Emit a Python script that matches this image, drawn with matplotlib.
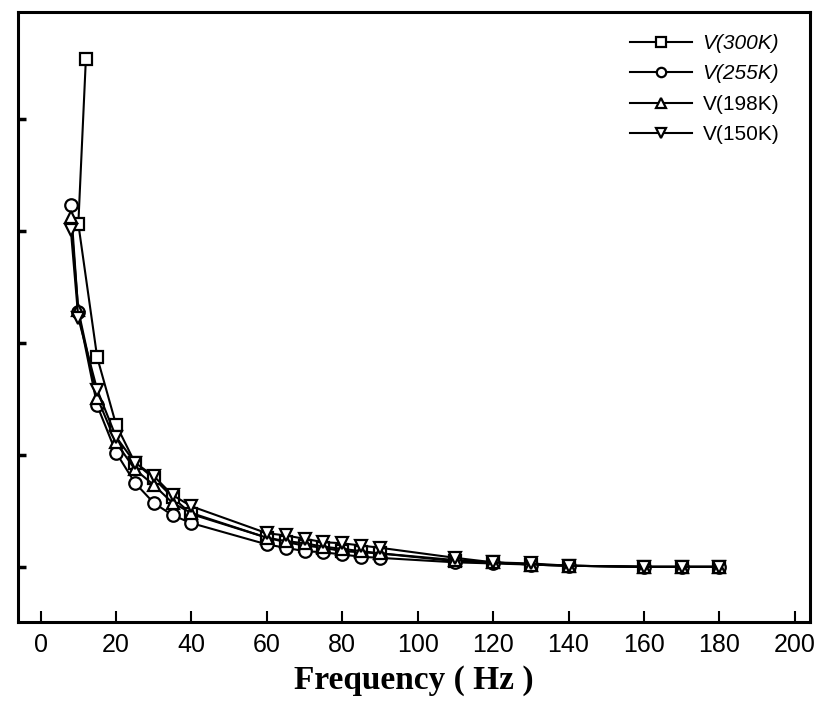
import matplotlib
matplotlib.use('Agg')
import matplotlib.pyplot as plt

freq = [8, 10, 15, 20, 25, 30, 35, 40, 60, 65, 70, 75, 80, 85, 90,
        110, 120, 130, 140, 160, 170, 180]
freq_300 = [12] + freq[1:]

v300 = [4.53, 3.06, 1.87, 1.27, 0.93, 0.79, 0.62, 0.47, 0.26, 0.22, 0.19,
        0.17, 0.14, 0.13, 0.12, 0.05, 0.04, 0.02, 0.01, 0.0, 0.0, 0.0]
v255 = [3.23, 2.27, 1.44, 1.02, 0.75, 0.57, 0.46, 0.39, 0.20, 0.17, 0.14,
        0.13, 0.11, 0.09, 0.08, 0.04, 0.03, 0.02, 0.01, 0.0, 0.0, 0.0]
v198 = [3.12, 2.29, 1.51, 1.11, 0.87, 0.73, 0.57, 0.48, 0.26, 0.23, 0.21,
        0.18, 0.16, 0.14, 0.12, 0.06, 0.04, 0.02, 0.01, 0.0, 0.0, 0.0]
v150 = [3.01, 2.22, 1.58, 1.16, 0.93, 0.81, 0.64, 0.54, 0.30, 0.28, 0.25,
        0.22, 0.21, 0.19, 0.17, 0.08, 0.04, 0.03, 0.01, 0.0, 0.0, 0.0]

xticks = [0, 20, 40, 60, 80, 100, 120, 140, 160, 180, 200]

fig = plt.figure(figsize=(8.18, 7.13), dpi=100)
ax = fig.add_axes([0.022, 0.128, 0.968, 0.855])

style = dict(color='black', lw=1.5, markersize=9, markerfacecolor='white',
             markeredgewidth=1.6)
ax.plot(freq_300, v300, marker='s', label='V(300K)', **style)
ax.plot(freq, v255, marker='o', label='V(255K)', **style)
ax.plot(freq, v198, marker='^', label='V(198K)', **style)
ax.plot(freq, v150, marker='v', label='V(150K)', **style)

ax.set_xlim(-6, 204)
ax.set_ylim(-0.49, 4.95)
ax.set_xticks(xticks)
ax.set_xticklabels([str(t) for t in xticks], fontsize=18, family='Liberation Sans')
ax.set_yticks([0, 1, 2, 3, 4])
ax.set_yticklabels([])
ax.tick_params(axis='x', direction='in', length=8, width=1.5, pad=8)
ax.tick_params(axis='y', direction='in', length=6, width=2.5)
for s in ax.spines.values():
    s.set_linewidth(2.2)

ax.set_xlabel('Frequency ( Hz )', fontsize=24, fontweight='bold',
              family='Liberation Serif', labelpad=6)

leg = ax.legend(loc='upper right', bbox_to_anchor=(0.985, 0.995), frameon=False,
                prop={'family': 'Liberation Sans', 'size': 15},
                markerscale=0.75, handlelength=3.0, handletextpad=0.5,
                labelspacing=0.55)
for t in leg.get_texts()[:2]:
    t.set_style('italic')

plt.savefig('out.png', dpi=100)
